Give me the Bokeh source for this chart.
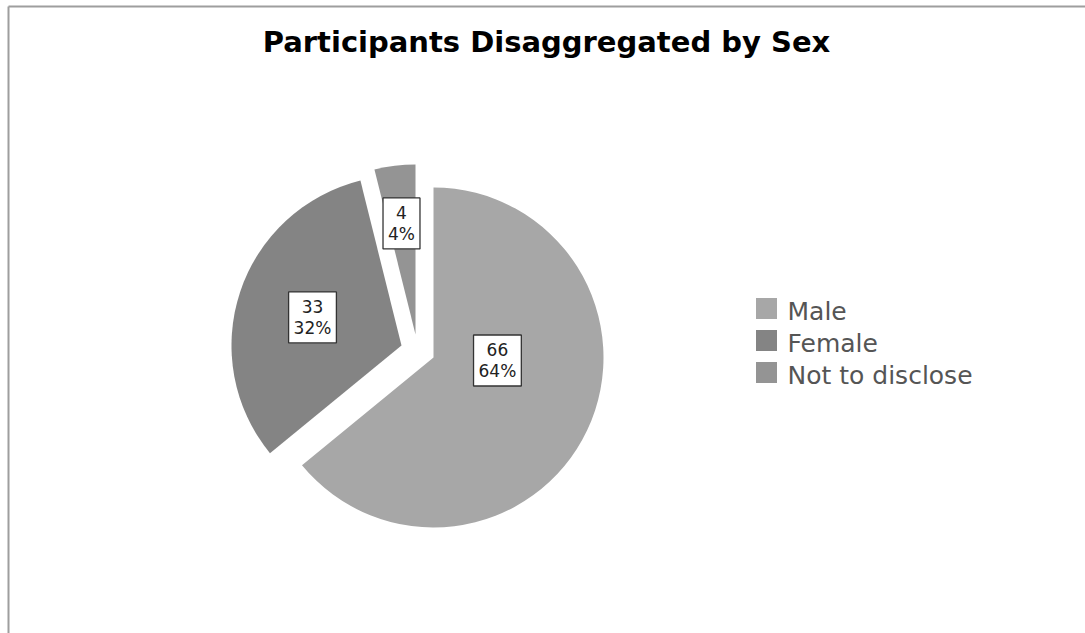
import math
from bokeh.plotting import figure
from bokeh.models import Range1d, ColumnDataSource
from bokeh.core.properties import value
from bokeh.embed import file_html
from bokeh.resources import INLINE

# ---------------- data ----------------
categories = ["Male", "Female", "Not to disclose"]
counts = [66, 33, 4]
title_text = "Participants Disaggregated by Sex"

# ---------------- style / layout ----------------
W, H = 1085, 633
colors = ["#a7a7a7", "#848484", "#949494"]
PIE_CX, PIE_CY = 433, H - 357          # pie centre (pixel-equivalent data units)
RADIUS = 170
# explode: (distance, clockwise angle from 12 o'clock, degrees)
explode = [(0.0, 0.0), (34.2, 290.6), (29.2, 322.0)]
# label placement relative to each (exploded) slice centre: (distance, cw angle)
label_place = [(64.0, 92.7), (93.3, 287.5), (111.9, 352.8)]

total = sum(counts)
fracs = [c / total for c in counts]
cum = [0.0]
for f in fracs:
    cum.append(cum[-1] + f)

xs, ys, starts, ends = [], [], [], []
lx, ly, ltext = [], [], []
for i, f in enumerate(fracs):
    d, a = explode[i]
    ar = math.radians(a)
    cx = PIE_CX + d * math.sin(ar)
    cy = PIE_CY + d * math.cos(ar)
    xs.append(cx)
    ys.append(cy)
    cw0 = cum[i] * 360.0
    cw1 = cum[i + 1] * 360.0
    starts.append(math.radians(90.0 - cw0))
    ends.append(math.radians(90.0 - cw1))
    r, la = label_place[i]
    lar = math.radians(la)
    lx.append(cx + r * math.sin(lar))
    ly.append(cy + r * math.cos(lar))
    ltext.append(f"{counts[i]}\n{round(f * 100):.0f}%")

src = ColumnDataSource(dict(x=xs, y=ys, start=starts, end=ends,
                            color=colors, cat=categories))
lsrc = ColumnDataSource(dict(x=lx, y=ly, text=ltext))

p = figure(width=W, height=H, output_backend="svg", toolbar_location=None,
           x_range=Range1d(0, W), y_range=Range1d(0, H),
           min_border=0, min_border_left=0, min_border_right=0,
           min_border_top=0, min_border_bottom=0)
p.xaxis.visible = False
p.yaxis.visible = False
p.grid.visible = False
p.outline_line_color = None
p.background_fill_color = "white"
p.border_fill_color = "white"

# frame border (top and left edges visible in the reference)
p.segment(x0=[8, 8], y0=[H - 6, H - 6], x1=[W, 8], y1=[H - 6, 0],
          line_color="#9e9e9e", line_width=2)

# slices
p.wedge(x="x", y="y", radius=RADIUS, start_angle="start", end_angle="end",
        direction="clock", fill_color="color", line_color=None, source=src)

# slice labels in boxes
p.text(x="x", y="y", text="text", source=lsrc,
       text_font=value("DejaVu Sans"), text_font_size="17px",
       text_color="#222222", text_align="center", text_baseline="middle",
       text_line_height=1.05,
       background_fill_color="white", border_line_color="#333333",
       border_line_width=1.3, padding=5)

# title
p.text(x=[546], y=[H - 41], text=[title_text],
       text_font=value("DejaVu Sans"), text_font_style="bold",
       text_font_size="29px", text_color="#000000",
       text_align="center", text_baseline="middle")

# legend (manual)
leg_x = 766
leg_y = [H - 308, H - 340, H - 372]
p.rect(x=[leg_x] * 3, y=leg_y, width=21, height=21, fill_color=colors,
       line_color=None)
p.text(x=[787] * 3, y=[v - 3 for v in leg_y], text=categories,
       text_font=value("DejaVu Sans"), text_font_size="25px",
       text_color="#555555", text_align="left", text_baseline="middle")

open("out.html", "w").write(file_html(p, INLINE))
